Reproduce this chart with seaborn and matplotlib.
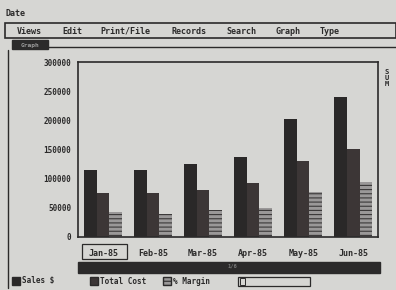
import pandas as pd
import numpy as np
import matplotlib.pyplot as plt
import seaborn as sns
from matplotlib.patches import Rectangle

# Data
months = ['Jan-85', 'Feb-85', 'Mar-85', 'Apr-85', 'May-85', 'Jun-85']
sales = [115000, 115000, 125000, 137000, 203000, 240000]
total_cost = [75000, 75000, 80000, 92000, 131000, 151000]
margin = [43000, 39000, 47000, 50000, 77000, 95000]
series = ['Sales $', 'Total Cost', '% Margin']
menu_items = ['Views', 'Edit', 'Print/File', 'Records', 'Search', 'Graph', 'Type']
yticks = [0, 50000, 100000, 150000, 200000, 250000, 300000]

df = pd.DataFrame({
    'month': months * 3,
    'value': sales + total_cost + margin,
    'series': [series[0]] * 6 + [series[1]] * 6 + [series[2]] * 6,
})

bg = '#d6d6d3'
ink = '#2b2a2a'
sns.set_style('white')
plt.rcParams['font.family'] = ['DejaVu Sans Mono']
plt.rcParams['font.weight'] = 'bold'
plt.rcParams['hatch.color'] = '#3a3838'
plt.rcParams['hatch.linewidth'] = 0.8

fig = plt.figure(figsize=(3.96, 2.90), dpi=100, facecolor=bg)
ax = fig.add_axes([0.197, 0.183, 0.758, 0.603])
ax.set_facecolor(bg)

palette = {series[0]: '#2a2828', series[1]: '#3c3636', series[2]: '#9a9898'}
sns.barplot(data=df, x='month', y='value', hue='series', palette=palette,
            width=0.76, gap=0, ax=ax, legend=False, saturation=1, linewidth=0)

# no gaps between bars; hatch the margin bars
for i, cont in enumerate(ax.containers):
    for bar in cont:
        bar.set_linewidth(0)
        bar.set_edgecolor(palette[series[i]])
        if i == 2:
            bar.set_hatch('----')
            bar.set_edgecolor('#3a3838')

ax.set_xlim(-0.5, 5.5)
ax.set_ylim(0, 300000)
ax.set_yticks(yticks)
ax.set_yticklabels([str(v) for v in yticks], fontsize=5.5, color=ink, fontweight='bold')
ax.set_xticks(range(6))
ax.set_xticklabels(months, fontsize=6, color=ink, fontweight='bold')
ax.tick_params(axis='both', length=3, width=1, color=ink, direction='out', pad=6)
ax.tick_params(axis='y', pad=2)
ax.set_xlabel('')
ax.set_ylabel('')
for s in ax.spines.values():
    s.set_color(ink)
    s.set_linewidth(1.2)

# box around the selected label
fig.patches.append(Rectangle((82 / 396, 1 - 259 / 290), 45 / 396, 15 / 290,
                             transform=fig.transFigure, fill=False,
                             edgecolor=ink, linewidth=0.9))

# screen chrome: menu line
fig.text(5 / 396, 1 - 14 / 290, 'Date', fontsize=6, color=ink, va='center')
fig.patches.append(Rectangle((5 / 396, 1 - 38 / 290), 391 / 396, 15 / 290,
                             transform=fig.transFigure, fill=False,
                             edgecolor=ink, linewidth=1.2))
menu_x = [17, 62, 100, 172, 226, 275, 320]
for mx, item in zip(menu_x, menu_items):
    fig.text(mx / 396, 1 - 31 / 290, item, fontsize=6, color=ink, va='center')

# tab and window border
fig.patches.append(Rectangle((12 / 396, 1 - 49 / 290), 36 / 396, 9 / 290,
                             transform=fig.transFigure, facecolor=ink,
                             edgecolor=ink))
fig.text(30 / 396, 1 - 45 / 290, 'Graph', fontsize=4.5, color='#9a9a9a',
         ha='center', va='center')
fig.add_artist(plt.Line2D([48 / 396, 1], [1 - 47 / 290] * 2, color=ink,
                          lw=1, transform=fig.transFigure))
fig.add_artist(plt.Line2D([8 / 396] * 2, [1 - 50 / 290, 1 - 288 / 290],
                          color=ink, lw=1, transform=fig.transFigure))
fig.text(387 / 396, 1 - 78 / 290, 'S\nU\nM', fontsize=5, color=ink,
         ha='center', va='center', linespacing=1.0)

# dark scroll bar
fig.patches.append(Rectangle((78 / 396, 1 - 273 / 290), 302 / 396, 11 / 290,
                             transform=fig.transFigure, facecolor=ink,
                             edgecolor=ink))
fig.text(232 / 396, 1 - 266 / 290, '1/6', fontsize=4, color='#777777',
         ha='center', va='center')

# legend row
leg_x = [12, 90, 163]
for lx, name in zip(leg_x, series):
    r = Rectangle((lx / 396, 1 - 285 / 290), 8 / 396, 8 / 290,
                  transform=fig.transFigure, facecolor=palette[name],
                  edgecolor=ink, hatch='----' if name == series[2] else None)
    fig.patches.append(r)
    fig.text((lx + 10) / 396, 1 - 281 / 290, name, fontsize=5.5, color=ink,
             va='center')
fig.patches.append(Rectangle((238 / 396, 1 - 286 / 290), 72 / 396, 9 / 290,
                             transform=fig.transFigure, fill=False,
                             edgecolor=ink, linewidth=0.9))
fig.patches.append(Rectangle((240 / 396, 1 - 285 / 290), 5 / 396, 7 / 290,
                             transform=fig.transFigure, fill=False,
                             edgecolor=ink, linewidth=0.7))

fig.savefig('out.png', dpi=100, facecolor=bg)
